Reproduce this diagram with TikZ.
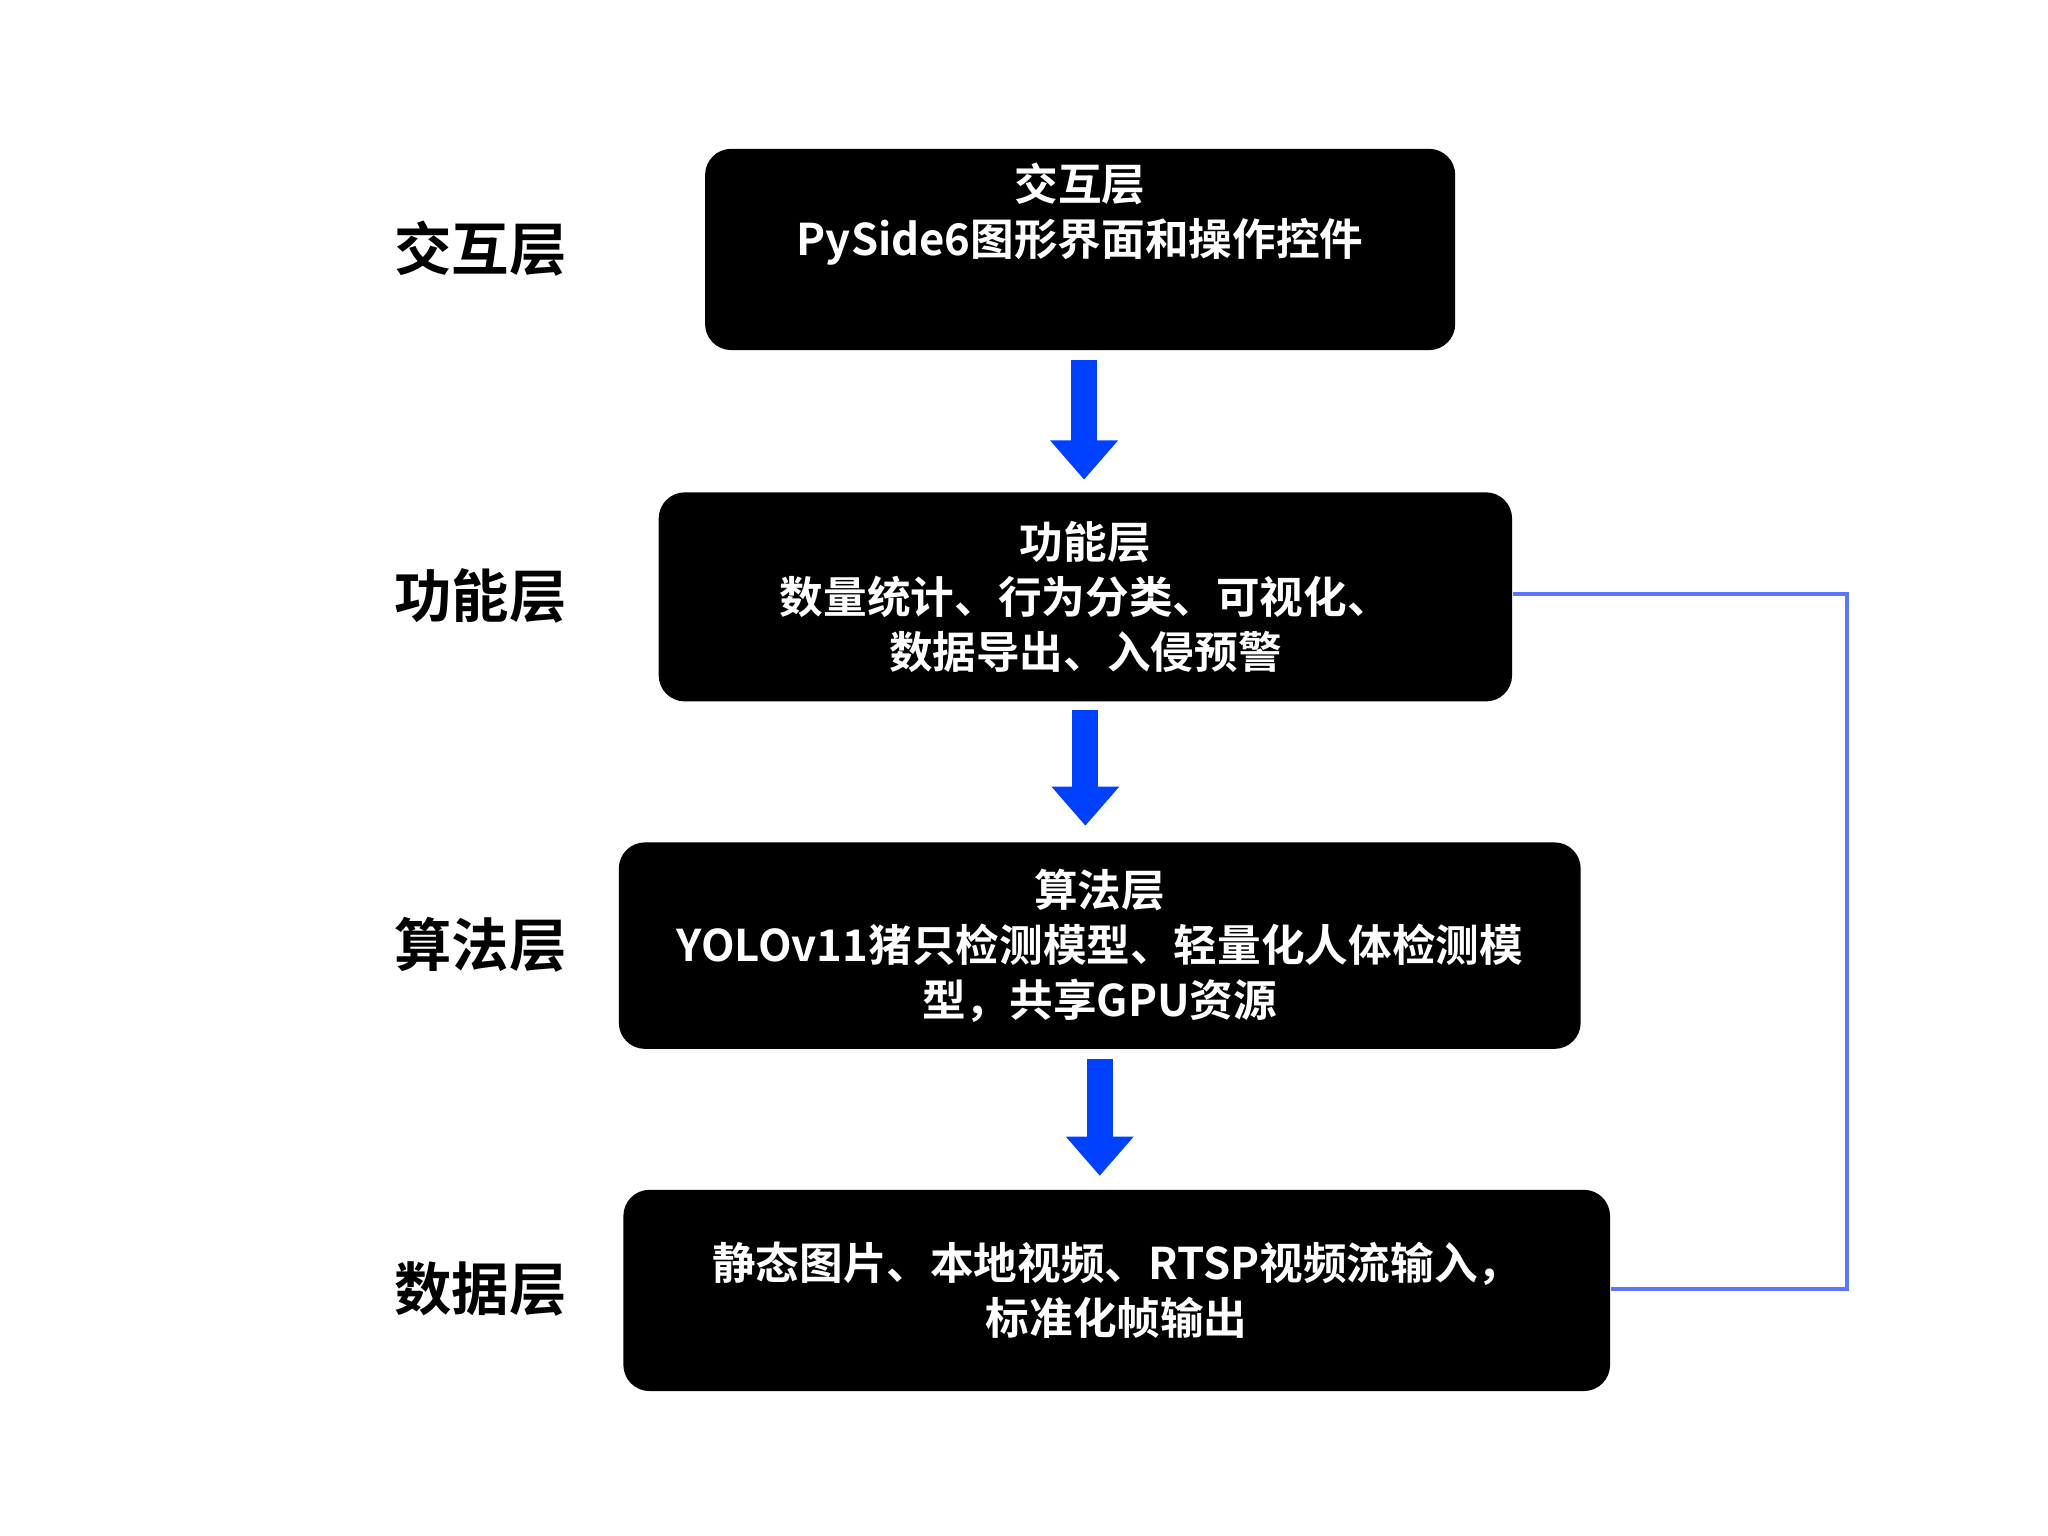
\documentclass[tikz,border=0pt]{standalone}
\usepackage{fontspec}
\setmainfont{Noto Sans CJK SC}[BoldFont={* Bold}]
\usetikzlibrary{arrows.meta}
\tikzset{
  layer/.style={fill=black, rounded corners=0.2cm, text=white, align=center,
    font=\fontsize{9.5pt}{12pt}\selectfont\bfseries, inner sep=0pt},
  side/.style={font=\fontsize{12.5pt}{14pt}\selectfont\bfseries},
  flow/.style={draw=blue!50!cyan!80!blue, line width=0.2cm,
    -{Triangle[width=0.5cm,length=0.3cm]}},
  link/.style={draw=blue!60!white!90!cyan, line width=0.8pt}
}
\begin{document}
\begin{tikzpicture}[x=0.01cm,y=-0.01cm]
        \useasboundingbox (0,0) rectangle (1568,1176);

        \node[layer, minimum width=5.74cm, minimum height=1.54cm] (b1) at (827,191)
        {交互层\\PySide6图形界面和操作控件\\[0.2cm]};
        \node[layer, minimum width=6.53cm, minimum height=1.60cm] (b2) at (831,457)
        {功能层\\数量统计、行为分类、可视化、\\数据导出、入侵预警};
        \node[layer, minimum width=7.36cm, minimum height=1.58cm] (b3) at (842,724)
        {算法层\\YOLOv11猪只检测模型、轻量化人体检测模\\型，共享GPU资源};
        \node[layer, minimum width=7.55cm, minimum height=1.54cm] (b4) at (855,988)
        {静态图片、本地视频、RTSP视频流输入，\\标准化帧输出};

        \node[side] (l1) at (368,190) {交互层};
        \node[side] (l2) at (368,456) {功能层};
        \node[side] (l3) at (368,723) {算法层};
        \node[side] (l4) at (368,987) {数据层};

        \draw[flow, draw=blue!75!cyan, color=blue!75!cyan, shorten <=0.07cm, shorten >=0.09cm]
        ([xshift=0.03cm]b1.south) -- ([xshift=0.03cm]b1.south |- b2.north);
        \draw[flow, draw=blue!75!cyan, color=blue!75!cyan, shorten <=0.06cm, shorten >=0.12cm]
        (b2.south) -- (b2.south |- b3.north);
        \draw[flow, draw=blue!75!cyan, color=blue!75!cyan, shorten <=0.07cm, shorten >=0.1cm]
        (b3.south) -- (b3.south |- b4.north);

        \coordinate (c1) at (1414,455);
        \coordinate (c2) at (1414,987);
        \draw[link] (b2.east |- c1) -- (c1) -- (c2) -- (b4.east |- c2);

      \end{tikzpicture}
\end{document}
